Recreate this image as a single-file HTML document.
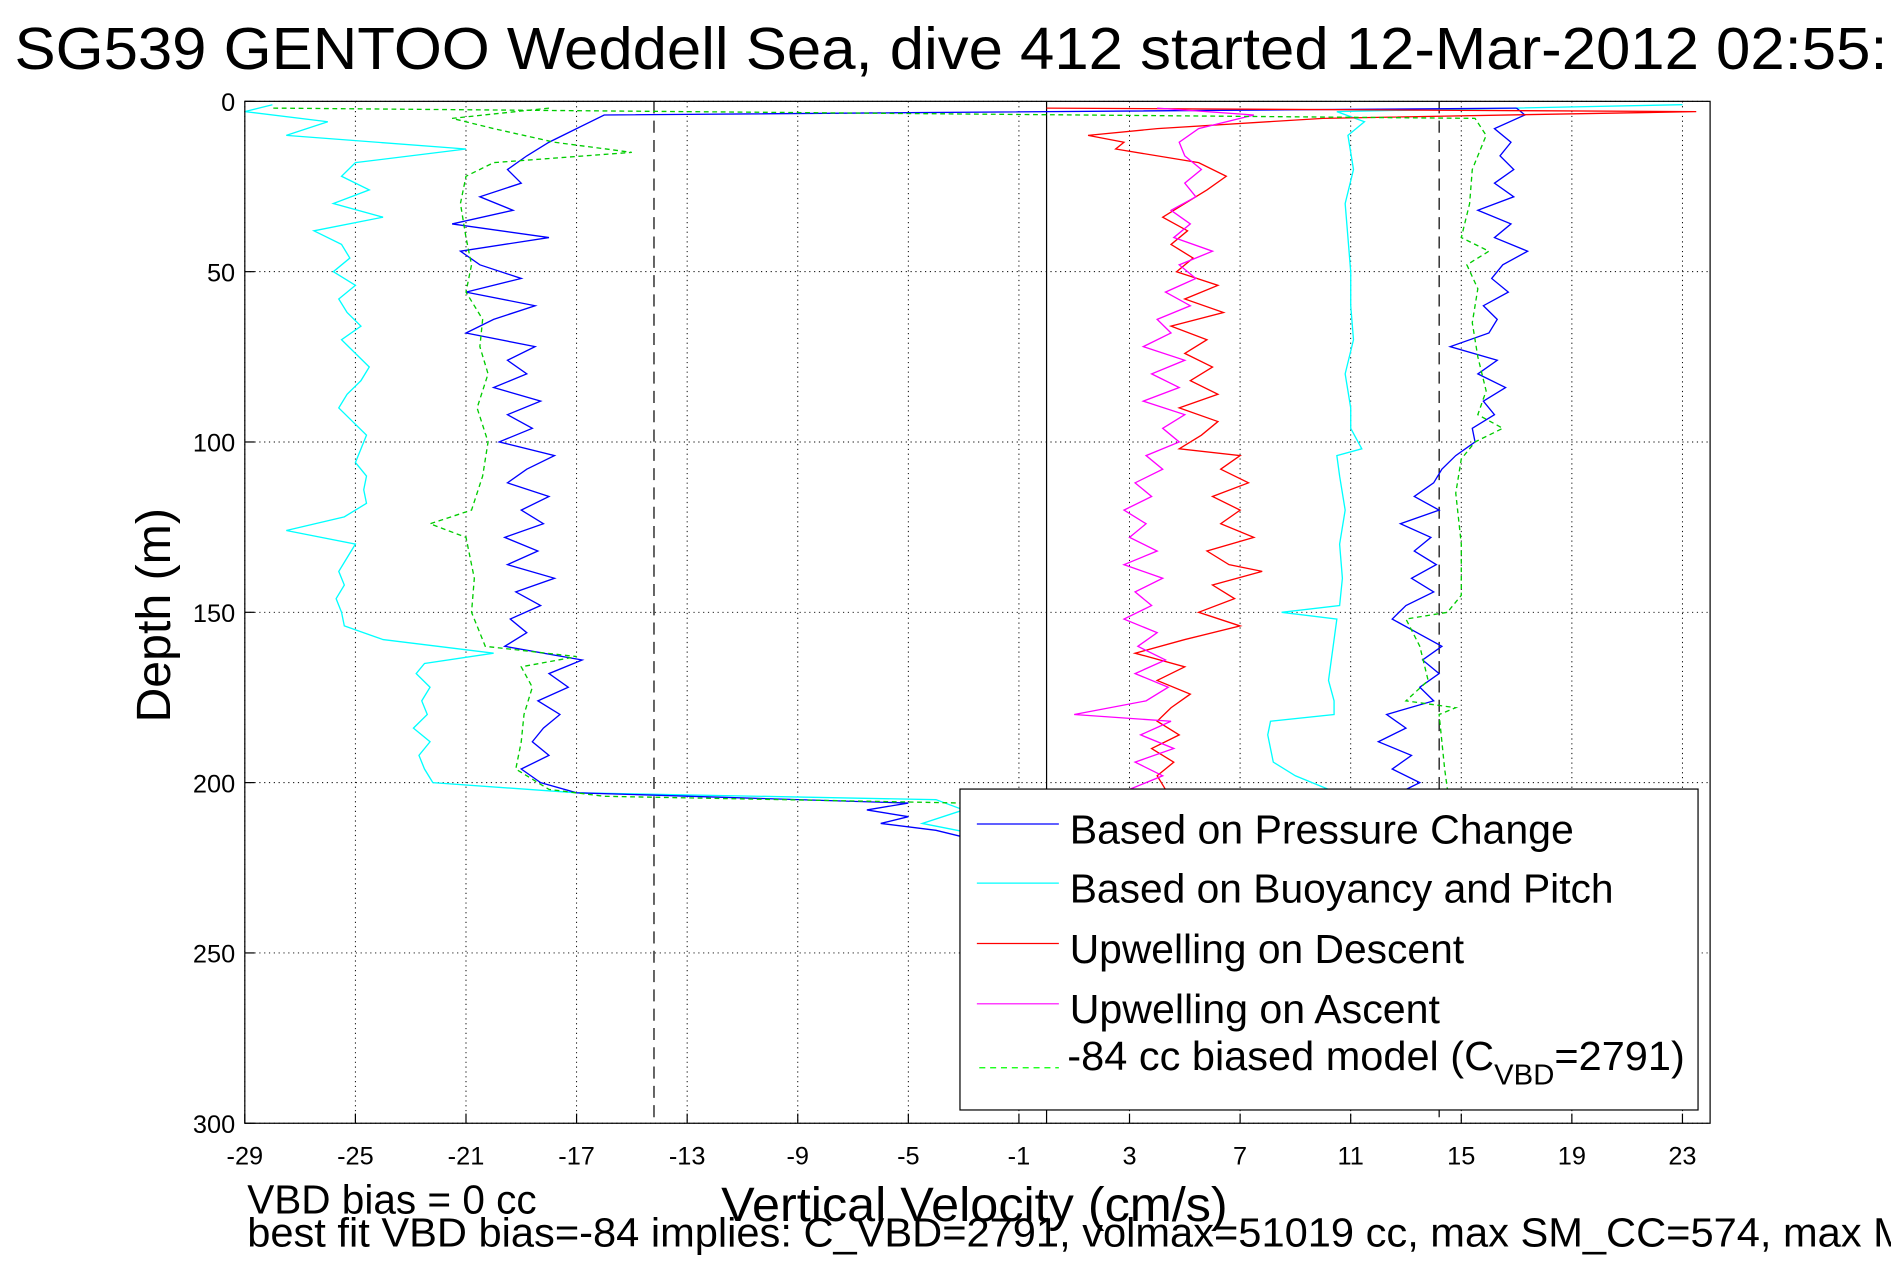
<!DOCTYPE html>
<html><head><meta charset="utf-8"><style>
html,body{margin:0;padding:0;background:#fff;overflow:hidden}
svg{display:block}
text{font-family:"Liberation Sans",sans-serif;fill:#000}
</style></head><body>
<svg id="chart" width="1891" height="1262" viewBox="0 0 1568 1046" preserveAspectRatio="none">
<text x="12" y="57" font-size="49" textLength="1610" lengthAdjust="spacingAndGlyphs">SG539 GENTOO Weddell Sea, dive 412 started 12-Mar-2012 02:55:18</text>
<g id="grid"></g>
<g id="series"></g>
<rect x="203" y="84" width="1215" height="847" fill="none" stroke="#000" stroke-width="1"/>
<g id="ticks"></g>
<text transform="translate(141,510) rotate(-90)" text-anchor="middle" font-size="40">Depth (m)</text>
<text x="808" y="1012" text-anchor="middle" font-size="40" textLength="420" lengthAdjust="spacingAndGlyphs">Vertical Velocity (cm/s)</text>
<text x="205" y="1006" font-size="34" textLength="240" lengthAdjust="spacingAndGlyphs">VBD bias = 0 cc</text>
<text x="205" y="1033" font-size="34" textLength="1400" lengthAdjust="spacingAndGlyphs">best fit VBD bias=-84 implies: C_VBD=2791, volmax=51019 cc, max SM_CC=574, max MA</text>
<g>
<rect x="796" y="654" width="612" height="266" fill="#fff" stroke="#000" stroke-width="1"/>
<line x1="810" y1="683" x2="878" y2="683" stroke="#00f"/>
<text x="887" y="699" font-size="34" textLength="418" lengthAdjust="spacingAndGlyphs">Based on Pressure Change</text>
<line x1="810" y1="732" x2="878" y2="732" stroke="#0ff"/>
<text x="887" y="748" font-size="34" textLength="451" lengthAdjust="spacingAndGlyphs">Based on Buoyancy and Pitch</text>
<line x1="810" y1="782" x2="878" y2="782" stroke="#f00"/>
<text x="887" y="798" font-size="34" textLength="327" lengthAdjust="spacingAndGlyphs">Upwelling on Descent</text>
<line x1="810" y1="832" x2="878" y2="832" stroke="#f0f"/>
<text x="887" y="848" font-size="34" textLength="307" lengthAdjust="spacingAndGlyphs">Upwelling on Ascent</text>
<line x1="812" y1="885" x2="878" y2="885" stroke="#0f0" stroke-dasharray="5,4"/>
<text x="885" y="887" font-size="34" textLength="512" lengthAdjust="spacingAndGlyphs">-84 cc biased model (C<tspan font-size="24" dy="12">VBD</tspan><tspan dy="-12">=2791)</tspan></text>
</g>
</svg>
<script>
const xTicks=[-29,-25,-21,-17,-13,-9,-5,-1,3,7,11,15,19,23];
const yTicks=[0,50,100,150,200,250,300];
const refLines=[-14.2,0,14.2];
const bDd=[2,4,8,12,16,20,24,28,32,36,40,44,48,52,56,60,64,68,72,76,80,84,88,92,96,100,104,108,112,116,120,124,128,132,136,140,144,148,152,156,160,164,168,172,176,180,184,188,192,196,200,203,206,208,210,212,214,216];
const bDv=[17,-16,-17,-18,-18.8,-19.5,-19,-20.5,-19.3,-21.5,-18,-21.2,-20.5,-19,-21,-18.5,-20,-21,-18.5,-19.5,-18.8,-20,-18.3,-19.5,-18.6,-19.8,-17.8,-18.8,-19.5,-18,-19,-18.2,-19.6,-18.4,-19.5,-17.8,-19.2,-18.3,-19.4,-18.8,-19.6,-16.8,-18,-17.3,-18.4,-17.6,-18.2,-18.6,-18,-19,-18.3,-17,-5,-6.5,-5,-6,-4,-3];
const bAd=[216,214,206,200,196,192,188,184,180,176,172,168,164,160,156,152,148,144,140,136,132,128,124,120,116,112,108,104,100,96,92,88,84,80,76,72,68,64,60,56,52,48,44,40,36,32,28,24,20,16,12,8,4,2];
const bAv=[-3,2,12,13.5,12.5,13.2,12,13,12.3,14,13.5,14.2,13.6,14.3,13.4,12.5,13,14,13.2,14.1,13.3,13.9,12.8,14.2,13.3,14,14.3,14.8,15.5,15.4,16.2,15.8,16.6,15.6,16.3,14.6,16,16.3,15.8,16.7,16.1,16.5,17.4,16.2,16.8,15.6,16.9,16.2,16.9,16.4,16.8,16.2,17.3,17];
const cDd=[1,3,6,10,14,18,22,26,30,34,38,42,46,50,54,58,62,66,70,74,78,82,86,90,94,98,102,106,110,114,118,122,126,130,134,138,142,146,150,154,158,162,165,168,172,176,180,184,188,192,196,200,203,205,208,212,216];
const cDv=[-28,-29,-26,-27.5,-21,-25,-25.5,-24.5,-25.8,-24,-26.5,-25.5,-25.2,-25.8,-25,-25.6,-25.3,-24.8,-25.5,-25,-24.5,-24.8,-25.3,-25.6,-25.1,-24.6,-24.8,-25,-24.6,-24.7,-24.6,-25.4,-27.5,-25,-25.3,-25.6,-25.4,-25.7,-25.5,-25.4,-24,-20,-22.5,-22.8,-22.3,-22.6,-22.4,-22.9,-22.3,-22.7,-22.5,-22.2,-17,-4,-3,-4.5,-2];
const cAd=[216,214,205,202,198,194,190,186,182,180,176,170,164,158,152,150,148,140,130,120,110,104,102,96,90,80,70,60,50,40,30,20,10,6,3,1];
const cAv=[-2,3,6,10.2,9,8.2,8.1,8,8.1,10.4,10.4,10.2,10.3,10.4,10.5,8.5,10.6,10.7,10.6,10.8,10.6,10.5,11.4,11,11,10.8,11.1,11,11,10.9,10.8,11.1,10.9,11.5,10.5,23];
const gDd=[2,5,8,12,15,18,22,30,40,48,56,64,72,80,90,100,110,120,124,128,140,150,160,163,166,172,180,188,196,202,204,206];
const gDv=[-18,-21.5,-20,-17.8,-15,-20,-21,-21.2,-21,-20.8,-21,-20.4,-20.5,-20.2,-20.6,-20.2,-20.4,-20.8,-22.3,-21,-20.7,-20.8,-20.3,-17,-19,-18.6,-18.9,-19,-19.2,-18,-16,-3];
const gAd=[205,202,196,188,180,178,176,170,160,152,150,145,130,115,105,100,96,92,85,75,65,55,48,44,40,30,20,10,5,2];
const gAv=[8,14.5,14.4,14.3,14.2,14.8,13,13.8,13.5,13,14.5,15,15,14.8,15,15.5,16.5,15.6,15.9,15.6,15.4,15.6,15.2,16,15,15.3,15.4,15.9,15.5,-28];
const rDd=[2,3,5,8,10,12,14,18,22,26,30,34,38,42,46,50,54,58,62,66,70,74,78,82,86,90,94,98,102,104,108,112,116,120,124,128,132,136,138,142,146,150,154,158,162,166,170,174,178,182,186,190,194,198,202];
const rDv=[0,23.5,10,4,1.5,2.8,2.5,5.5,6.5,5.8,5,4.2,5.1,4.5,5.3,4.7,6.2,5,6.4,4.5,5.8,5,6,5.2,6.2,4.8,6.2,5.6,4.8,7,6.3,7.3,6,7,6.3,7.5,5.8,6.6,7.8,6,6.8,5.5,7,5,3.2,5,4,5.2,4.5,4,4.8,3.8,4.6,4,4.3];
const mAd=[202,198,194,190,186,182,180,176,172,168,164,160,156,152,148,144,140,136,132,128,124,120,116,112,108,104,100,96,92,88,84,80,76,72,68,64,60,56,52,48,44,40,36,32,28,24,20,16,12,8,4,2];
const mAv=[3,4.2,3.2,4.6,3.4,4.5,1,3.6,4.4,3.2,4.3,3.3,4,2.8,3.8,3.2,4.2,2.8,4,3,3.6,2.8,3.8,3.2,4.2,3.6,4.8,4.2,5,3.5,4.8,3.8,5,3.5,4.5,4,5.2,4.3,5.4,4.8,6,4.6,5.2,4.5,5.4,5,5.6,5,4.8,5.5,7.5,4];

const X0=203,X1=1418,Y0=84,Y1=931,XMIN=-29,XMAX=24,YMAX=300;
const sx=v=>X0+(v-XMIN)/(XMAX-XMIN)*(X1-X0);
const sy=d=>Y0+d/YMAX*(Y1-Y0);
const NS='http://www.w3.org/2000/svg';
function mk(tag,attrs,parent){const e=document.createElementNS(NS,tag);for(const k in attrs)e.setAttribute(k,attrs[k]);parent.appendChild(e);return e;}
const grid=document.getElementById('grid'),ticks=document.getElementById('ticks'),ser=document.getElementById('series');
xTicks.forEach(t=>{
  const g=mk('line',{x1:sx(t),x2:sx(t),y1:Y0,y2:Y1,stroke:'#000','stroke-width':0.8,'stroke-dasharray':'1,3'},grid);
  
  
  const tk=mk('line',{x1:sx(t),x2:sx(t),y1:Y1,y2:Y1-8,stroke:'#000'},ticks);
  
  
  const lb=mk('text',{x:sx(t),y:Y1+34,'text-anchor':'middle','font-size':21},ticks);
  lb.textContent=t;
  
  
});
yTicks.forEach(t=>{
  const g=mk('line',{x1:X0,x2:X1,y1:sy(t),y2:sy(t),stroke:'#000','stroke-width':0.8,'stroke-dasharray':'1,3'},grid);
  
  
  const tk=mk('line',{x1:X0,x2:X0+8,y1:sy(t),y2:sy(t),stroke:'#000'},ticks);
  
  
  const lb=mk('text',{x:X0-8,y:sy(t)+8,'text-anchor':'end','font-size':21},ticks);
  lb.textContent=t;
  
  
});
refLines.forEach((v,i)=>{
  const l=mk('line',{x1:sx(v),x2:sx(v),y1:Y0,y2:Y1,stroke:'#000','stroke-width':1},grid);
  if(i!==1)l.setAttribute('stroke-dasharray','10,6');
  
  
});
function line(ds,vs,color,name,dash){
  const pts=ds.map((d,i)=>sx(vs[i]).toFixed(1)+','+sy(d).toFixed(1)).join(' ');
  const p=mk('polyline',{points:pts,fill:'none',stroke:color,'stroke-width':1.1},ser);
  if(dash)p.setAttribute('stroke-dasharray','4,3');
  
  
}
line(cDd,cDv,'#0ff','buoyancy-descent-line');
line(cAd,cAv,'#0ff','buoyancy-ascent-line');
line(bDd,bDv,'#00f','pressure-descent-line');
line(bAd,bAv,'#00f','pressure-ascent-line');
line(rDd,rDv,'#f00','upwelling-descent-line');
line(mAd,mAv,'#f0f','upwelling-ascent-line');
line(gDd,gDv,'#0c0','model-descent-line',true);
line(gAd,gAv,'#0c0','model-ascent-line',true);
</script>
</body></html>
